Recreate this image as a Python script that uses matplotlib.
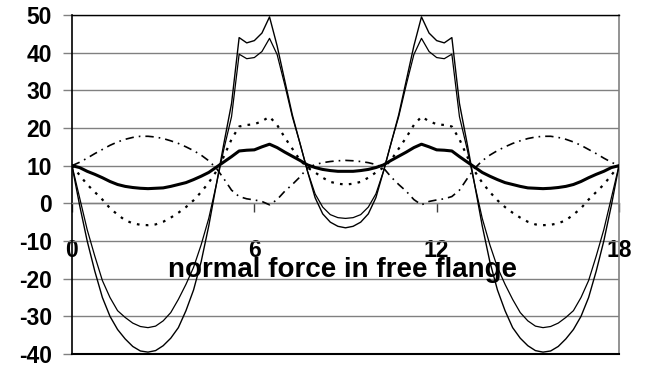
import matplotlib
matplotlib.use("Agg")
import matplotlib.pyplot as plt

plt.rcParams['font.family'] = ['Liberation Sans', 'DejaVu Sans']

# x positions (0 .. 18, step 0.25)
x = [i * 0.25 for i in range(73)]

# left half values (x = 0 .. 9), right half mirrors the picture
s1_left = [10, -0.5, -10, -18, -25, -30, -33.5, -36, -38, -39.2, -39.5, -39.1, -37.8,
           -35.8, -33, -28.5, -23, -15.5, -6, 5, 16, 26.5, 44, 42.6, 43.2, 45.2, 49.5,
           41.8, 32.6, 23.5, 16, 8.5, 1.5, -2.8, -5, -6.1, -6.5]
s2_left = [10, 1.5, -7, -14, -20.5, -25, -28.5, -30.3, -31.8, -32.7, -33, -32.6, -31.2,
           -29, -25.5, -21.5, -17, -11, -4, 5, 14.5, 23, 39.6, 38.4, 38.7, 40.3, 43.8,
           39.5, 31.5, 23, 16, 8.5, 2.5, -1.0, -3, -3.8, -4.0]
s3_left = [10, 7.5, 5, 3, 1, -1.3, -3, -4.5, -5.3, -5.7, -5.8, -5.6, -4.9,
           -3.8, -2.5, -1, 0.8, 3, 5.5, 8.5, 12.5, 17, 20.4, 20.8, 21, 21.8, 23,
           20.8, 17.5, 14.5, 11.5, 9.5, 8.2, 6.8, 5.7, 5.2, 5.0]
s4_left = [10, 10.9, 12, 13.2, 14.3, 15.4, 16.3, 17, 17.5, 17.8, 17.8, 17.6, 17.2,
           16.6, 15.9, 15, 14, 12.8, 11.3, 9.3, 6.5, 3.5, 1.8, 1.2, 0.9, 0.5, -0.4,
           1.0, 3.2, 5.0, 7.0, 9.4, 10.3, 10.8, 11.1, 11.3, 11.4]
s5_left = [10, 9.5, 8.5, 7.7, 6.8, 5.8, 5.0, 4.5, 4.2, 4.0, 3.9, 4.0, 4.1,
           4.5, 5.0, 5.5, 6.3, 7.2, 8.2, 9.6, 11.0, 12.4, 13.9, 14.1, 14.2, 15.0, 15.7,
           14.8, 13.6, 12.5, 11.4, 10.2, 9.5, 9.0, 8.7, 8.5, 8.5]

s1 = s1_left + s1_left[-2::-1]
s2 = s2_left + s2_left[-2::-1]
s3 = s3_left + s3_left[-2::-1]
s4 = s4_left + s4_left[-2::-1]
s5 = s5_left + s5_left[-2::-1]

xticks = [0, 6, 12, 18]
yticks = [-40, -30, -20, -10, 0, 10, 20, 30, 40, 50]
title = "normal force in free flange"

fig = plt.figure(figsize=(6.49, 3.67), dpi=100)
ax = fig.add_axes([72/649, 13/367, 547/649, 339/367])

ax.plot(x, s1, color='black', lw=1.0, zorder=3)
ax.plot(x, s2, color='black', lw=0.9, zorder=3)
ax.plot(x, s3, color='black', lw=1.6, linestyle=(0, (1.2, 2.8)), zorder=3)
ax.plot(x, s4, color='black', lw=1.2, linestyle=(0, (5, 3, 1, 3)), zorder=3)
ax.plot(x, s5, color='black', lw=2.2, zorder=4)

ax.spines['bottom'].set_position(('data', 0))
ax.spines['bottom'].set_color('#808080')
ax.spines['bottom'].set_linewidth(1.0)
ax.spines['left'].set_color('black')
ax.spines['left'].set_linewidth(1.2)
ax.spines['top'].set_color('black')
ax.spines['top'].set_linewidth(1.0)
ax.spines['right'].set_color('#808080')
ax.spines['right'].set_linewidth(1.2)

ax.set_xlim(0, 18)
ax.set_ylim(-40, 50)
ax.set_xticks(xticks)
ax.set_yticks(yticks)
ax.set_xticklabels([str(v) for v in xticks])
ax.set_yticklabels([str(v) for v in yticks])
for lab in ax.get_xticklabels() + ax.get_yticklabels():
    lab.set_fontsize(16.5)
    lab.set_fontweight('bold')

ax.yaxis.grid(True, color='#808080', lw=1.0)
ax.set_axisbelow(True)
ax.axhline(ax.get_ylim()[0], color='black', lw=1.5, clip_on=False, zorder=5)

ax.tick_params(axis='x', direction='out', length=6.5, width=1.0, color='#404040', pad=19,
               labelsize=16.5)
ax.tick_params(axis='y', direction='out', length=6.5, width=1.0, color='#808080', pad=8,
               labelsize=16.5)

ax.text(8.9, -17.7, title, ha='center', va='center', fontsize=20, fontweight='bold', zorder=6)

fig.savefig('out.png', dpi=100)
